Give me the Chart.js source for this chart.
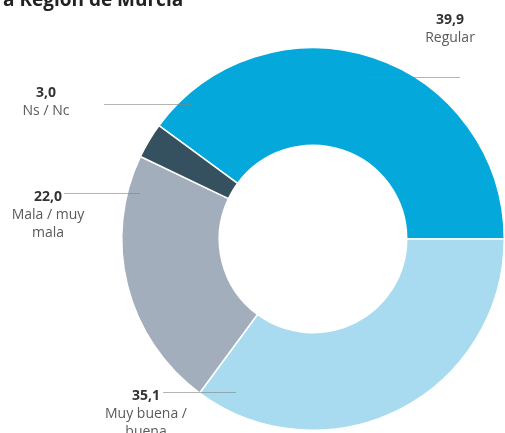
<!DOCTYPE html>
<html>
<head>
<meta charset="utf-8">
<script src="https://cdn.jsdelivr.net/npm/chart.js@4"></script>
<style>
  html, body { margin: 0; padding: 0; background: #fff; }
  canvas { display: block; }
</style>
</head>
<body>
<canvas id="donut" width="505" height="433"></canvas>
<script>
const categories = ['Regular', 'Muy buena / buena', 'Mala / muy mala', 'Ns / Nc'];
const values = [39.9, 35.1, 22.0, 3.0];
const colors = ['#05a8da', '#a8dbef', '#a2aebb', '#35505f'];

// text blocks next to the ring: value, label lines, leader line
const callouts = [
    { i: 0, x: 450, y: 20, lines: ['Regular'], lead: [367, 77, 460, 77] },
    { i: 1, x: 146, y: 396, lines: ['Muy buena /', 'buena'], lead: [163, 392, 236, 392] },
    { i: 2, x: 48, y: 197, lines: ['Mala / muy', 'mala'], lead: [64, 193, 140, 193] },
    { i: 3, x: 46, y: 93, lines: ['Ns / Nc'], lead: [104, 104, 192, 104] }
];

const fmt = v => v.toFixed(1).replace('.', ',');
const total = values.reduce((a, b) => a + b, 0);

const annotate = {
    id: 'annotate',
    afterDraw(chart) {
        const c = chart.ctx;
        c.save();
        // title, cut off by the top edge
        c.fillStyle = '#222';
        c.font = 'bold 19px "Open Sans"';
        c.textAlign = 'left';
        c.textBaseline = 'alphabetic';
        c.fillText('a Región de Murcia', 3, 5.5);

        callouts.forEach(o => {
            c.strokeStyle = 'rgba(130,130,130,0.6)';
            c.lineWidth = 1;
            c.beginPath();
            c.moveTo(o.lead[0], o.lead[1] + 0.5);
            c.lineTo(o.lead[2], o.lead[3] + 0.5);
            c.stroke();

            c.textAlign = 'center';
            c.textBaseline = 'middle';
            c.fillStyle = '#333';
            c.font = 'bold 14px "Open Sans"';
            c.fillText(fmt(values[o.i]), o.x, o.y);
            c.fillStyle = '#5a5a5a';
            c.font = '14px "Open Sans"';
            o.lines.forEach((t, k) => c.fillText(t, o.x, o.y + 18 + k * 18));
        });
        c.restore();
    }
};

new Chart(document.getElementById('donut').getContext('2d'), {
    type: 'doughnut',
    data: {
        labels: categories,
        datasets: [{
            data: values,
            backgroundColor: colors,
            borderColor: '#ffffff',
            borderWidth: 1.5,
            hoverOffset: 0
        }]
    },
    options: {
        responsive: false,
        animation: false,
        cutout: '49%',
        // the first slice ends at three o'clock
        rotation: 90 - values[0] / total * 360,
        layout: { padding: { left: 121, right: 0, top: 47, bottom: 2 } },
        plugins: {
            legend: { display: false },
            tooltip: { enabled: false }
        }
    },
    plugins: [annotate]
});
</script>
</body>
</html>
